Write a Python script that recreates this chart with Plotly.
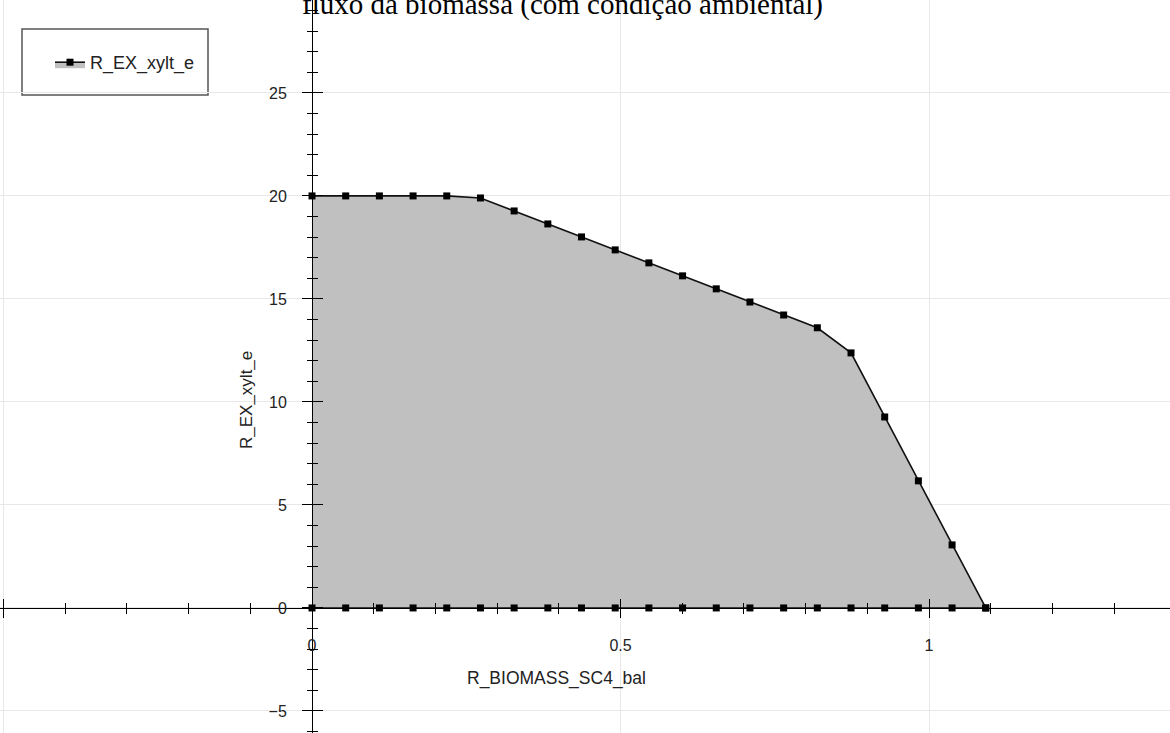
import plotly.graph_objects as go

# data
x_vals = [0, 0.0546, 0.1092, 0.1638, 0.2184, 0.273, 0.3276, 0.3822, 0.4368, 0.4914,
          0.546, 0.6006, 0.6552, 0.7098, 0.7644, 0.819, 0.8736, 0.9282, 0.9828, 1.0374, 1.092]
y_max = [20.0, 20.0, 20.0, 20.0, 20.0, 19.9, 19.27, 18.64, 18.01, 17.38,
         16.75, 16.12, 15.49, 14.85, 14.22, 13.6, 12.38, 9.27, 6.17, 3.06, 0.0]
y_min = [0]*21
series_name = "R_EX_xylt_e"
x_title = "R_BIOMASS_SC4_bal"
y_title = "R_EX_xylt_e"
chart_title = "fluxo da biomassa (com condição ambiental)"
x_tick_vals = [-0.5, 0, 0.5, 1]
x_tick_text = ["-0.5", "0", "0.5", "1"]
y_tick_vals = [-5, 0, 5, 10, 15, 20, 25]

W, H = 1170, 733
xr = [-0.5057, 1.3906]
yr = [-6.07, 29.51]
xpos = (0 - xr[0]) / (xr[1] - xr[0])
ypos = (0 - yr[0]) / (yr[1] - yr[0])

font_sans = "Liberation Sans, Arial, sans-serif"
tick_font = dict(family=font_sans, size=16, color="#222")

fig = go.Figure()
fig.add_trace(go.Scatter(x=x_vals, y=y_min, mode="lines+markers", showlegend=False,
                         line=dict(color="#111", width=1.6),
                         marker=dict(symbol="square", size=7, color="#000")))
fig.add_trace(go.Scatter(x=x_vals, y=y_max, mode="lines+markers", name=series_name,
                         fill="tonexty", fillcolor="#c0c0c0",
                         line=dict(color="#111", width=1.6),
                         marker=dict(symbol="square", size=7, color="#000")))
# helper trace for overlay axes (crossing ticks)
fig.add_trace(go.Scatter(x=[0], y=[0], xaxis="x2", yaxis="y2", mode="markers",
                         marker=dict(opacity=0), showlegend=False, hoverinfo="skip"))

common_x = dict(range=xr, showline=True, linecolor="#000", linewidth=1,
                zeroline=False, anchor="free", position=ypos)
common_y = dict(range=yr, showline=True, linecolor="#000", linewidth=1,
                zeroline=False, anchor="free", position=xpos)

fig.update_layout(
    width=W, height=H, margin=dict(l=0, r=0, t=0, b=0),
    paper_bgcolor="white", plot_bgcolor="white",
    xaxis=dict(**common_x, tickmode="array", tickvals=x_tick_vals, ticktext=x_tick_text,
               ticks="outside", ticklen=9, tickcolor="#000", tickwidth=1,
               showgrid=True, gridcolor="#e8e8e8", gridwidth=1,
               tickfont=tick_font, ticklabelstandoff=14,
               minor=dict(dtick=0.1, tick0=0, ticks="outside", ticklen=5,
                          tickcolor="#000", showgrid=False)),
    xaxis2=dict(**common_x, overlaying="x", tickmode="array", tickvals=x_tick_vals,
                ticks="inside", ticklen=9, tickcolor="#000", showticklabels=False,
                showgrid=False,
                minor=dict(dtick=0.1, tick0=0, ticks="inside", ticklen=5,
                           tickcolor="#000", showgrid=False)),
    yaxis=dict(**common_y, tickmode="array", tickvals=y_tick_vals,
               ticks="outside", ticklen=10, tickcolor="#000", tickwidth=1,
               showgrid=True, gridcolor="#e8e8e8", gridwidth=1,
               tickfont=tick_font, ticklabelstandoff=12,
               minor=dict(dtick=1, tick0=0, ticks="outside", ticklen=5,
                          tickcolor="#000", showgrid=False)),
    yaxis2=dict(**common_y, overlaying="y", tickmode="array", tickvals=y_tick_vals,
                ticks="inside", ticklen=10, tickcolor="#000", showticklabels=False,
                showgrid=False,
                minor=dict(dtick=1, tick0=0, ticks="inside", ticklen=5,
                           tickcolor="#000", showgrid=False)),
    showlegend=True,
    legend=dict(x=50 / W, y=1 - 44 / H, xanchor="left", yanchor="top",
                bgcolor="rgba(0,0,0,0)", borderwidth=0,
                font=dict(family=font_sans, size=18, color="#222")),
    shapes=[dict(type="rect", xref="paper", yref="paper",
                 x0=22 / W, x1=208 / W, y0=1 - 95 / H, y1=1 - 29 / H,
                 line=dict(color="#555", width=1.5), fillcolor="white", layer="below")],
    annotations=[
        dict(text=chart_title, xref="paper", yref="paper", x=562 / W, y=1 - 4 / H,
             xanchor="center", yanchor="middle", showarrow=False,
             font=dict(family="Liberation Serif, Times New Roman, serif", size=29, color="#000")),
        dict(text=x_title, xref="paper", yref="paper", x=556 / W, y=1 - 678 / H,
             xanchor="center", yanchor="middle", showarrow=False,
             font=dict(family=font_sans, size=17.5, color="#222")),
        dict(text=y_title, xref="paper", yref="paper", x=246 / W, y=1 - 400 / H,
             xanchor="center", yanchor="middle", showarrow=False, textangle=-90,
             font=dict(family=font_sans, size=17, color="#222")),
    ],
)

fig.write_html("out.html", config={"displayModeBar": False},
               post_script="document.body.style.margin='0';document.body.style.overflow='hidden';")
